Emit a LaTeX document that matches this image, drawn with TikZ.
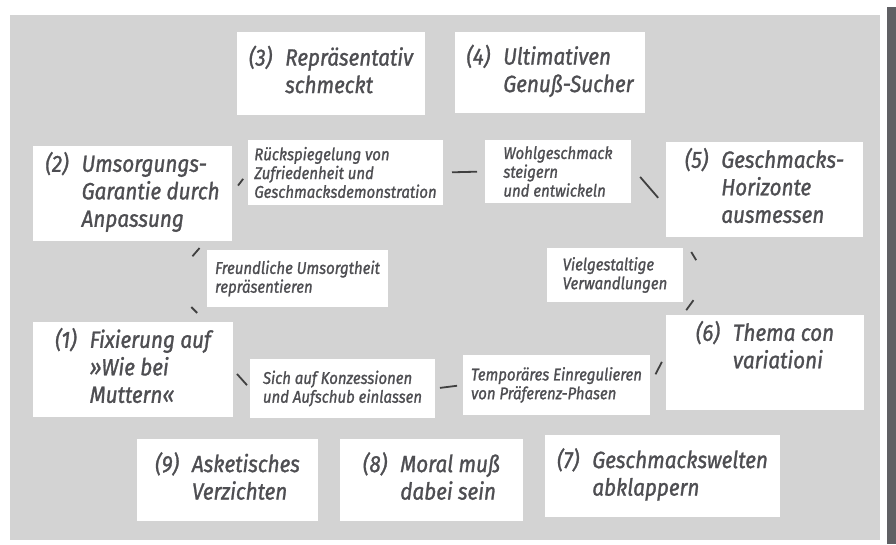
\documentclass[tikz,border=0pt]{standalone}
\usepackage{fontspec}
\setmainfont{Fira Sans}[ItalicFeatures={FakeBold=1.2,FakeStretch=0.88}]
\definecolor{panelgray}{RGB}{211,211,211}
\definecolor{inkgray}{RGB}{78,78,82}
\definecolor{edgegray}{RGB}{96,96,100}
\newcommand{\typtext}[2]{\begin{tabular}{@{}l@{\hspace{13pt}}l@{}}#1 & #2\end{tabular}}
\tikzset{
    typbox/.style={
    rectangle,fill=white,inner sep=0pt,outer sep=0pt,text=inkgray,
    font=\fontsize{23.5}{27.5}\selectfont\itshape
    },
    wegbox/.style={
    rectangle,fill=white,inner xsep=5pt,inner ysep=0pt,outer sep=0pt,
    text=inkgray,align=left,font=\fontsize{17}{18.8}\selectfont\itshape
    },
    connpart/.style={
    draw=black!75,line width=1.8pt
    },
}
\begin{document}
\begin{tikzpicture}[x=1pt,y=-1pt]
   \useasboundingbox (0,0) rectangle (896,544);
   \fill[panelgray] (10,15) rectangle (880,540);
   \fill[edgegray] (887,7) rectangle (896,544);

   % the nine types
   \node[typbox,minimum width=188pt,minimum height=83pt] (rep) at (331,73.5) {\typtext{(3)}{Repräsentativ\\ & schmeckt}};
   \node[typbox,minimum width=190pt,minimum height=81pt] (ult) at (550,72.5) {\typtext{(4)}{Ultimativen\\ & Genuß-Sucher}};
   \node[typbox,minimum width=199pt,minimum height=95pt] (ums) at (132.5,193.5) {\typtext{(2)}{Umsorgungs-\\ & Garantie durch\\ & Anpassung}};
   \node[typbox,minimum width=197pt,minimum height=95pt] (hor) at (764.5,189.5) {\typtext{(5)}{Geschmacks-\\ & Horizonte\\ & ausmessen}};
   \node[typbox,minimum width=200pt,minimum height=95pt] (fix) at (133,369.5) {\typtext{(1)}{Fixierung auf\\ & »Wie bei\\ & Muttern«}};
   \node[typbox,minimum width=198pt,minimum height=95pt] (the) at (765,362.5) {\typtext{(6)}{Thema con\\ & variationi\\ &}};
   \node[typbox,minimum width=181pt,minimum height=82pt] (ask) at (227.5,480) {\typtext{(9)}{Asketisches\\ & Verzichten}};
   \node[typbox,minimum width=183pt,minimum height=82pt] (mor) at (431.5,480) {\typtext{(8)}{Moral muß\\ & dabei sein}};
   \node[typbox,minimum width=235pt,minimum height=82pt] (gew) at (662.5,476) {\typtext{(7)}{Geschmackswelten\\ & abklappern}};

   % the ways between them
   \node[wegbox,minimum width=195pt,minimum height=65pt] (rueck) at (345.5,172.5) {Rückspiegelung von\\Zufriedenheit und\\Geschmacksdemonstration};
   \node[wegbox,minimum width=146pt,minimum height=63pt] (wohl) at (558,171.5) {Wohlgeschmack\\steigern\\und entwickeln};
   \node[wegbox,minimum width=181pt,minimum height=57pt] (freund) at (297.5,278.5) {Freundliche Umsorgtheit\\repräsentieren};
   \node[wegbox,minimum width=136pt,minimum height=54pt] (viel) at (615,275) {Vielgestaltige\\Verwandlungen};
   \node[wegbox,minimum width=185pt,minimum height=59pt] (sich) at (342.5,388.5) {Sich auf Konzessionen\\und Aufschub einlassen};
   \node[wegbox,minimum width=187pt,minimum height=60pt] (temp) at (556.5,385) {Temporäres Einregulieren\\von Präferenz-Phasen};

  \path
    (ums.east)   edge [connpart,shorten <=10pt,shorten >=8pt] (rueck.west)
    (rueck.east) edge [connpart,shorten <=9pt,shorten >=8pt] (wohl.west)
    (wohl.4)     edge [connpart,shorten <=14pt,shorten >=12pt] (hor.190)
    (hor.210)    edge [connpart,shorten <=17.5pt,shorten >=64pt] (the.127)
    (hor.242)    edge [connpart,shorten <=78pt,shorten >=6pt] (the.150)
    (the.175)    edge [connpart,shorten <=9pt,shorten >=12pt] (temp.east)
    (temp.west)  edge [connpart,shorten <=6pt,shorten >=5pt] (sich.east)
    (sich.west)  edge [connpart,shorten <=4.5pt,shorten >=6pt] (fix.east)
    (fix.33)     edge [connpart,shorten <=12.7pt,shorten >=93pt] (ums.262)
    (fix.87)     edge [connpart,shorten <=87pt,shorten >=9.3pt] (ums.327);
\end{tikzpicture}
\end{document}
